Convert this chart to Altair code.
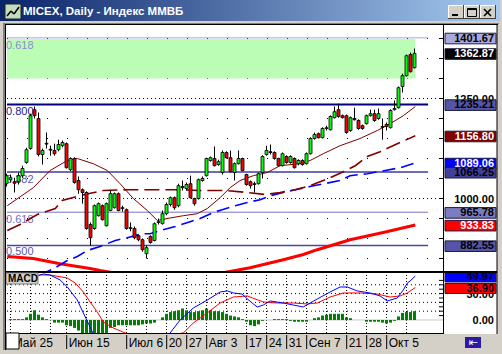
import altair as alt
import pandas as pd

W, H = 502, 354
FONT = "Liberation Sans"

# ---------------- data ----------------
opens = [1037,1047,1042,1042,1057,1090,1125,1222,1200,1110,1138,1123,1120,1122,1132,1137,1072,1100,1045,1022,
         1015,935,925,957,982,932,970,977,1012,977,972,927,925,907,897,862,905,895,940,937,
         962,985,1002,982,1030,1025,1037,1000,1000,1045,1057,1095,1100,1085,1065,1115,1102,1065,1087,1100,
         1060,1042,1037,1037,1065,1110,1117,1115,1100,1082,1105,1090,1100,1087,1095,1087,1112,1150,1162,1152,
         1175,1172,1202,1222,1207,1207,1170,1200,1195,1182,1187,1207,1212,1200,1180,1185,1177,1222,1227,1280,
         1307,1360,1327]
highs = [1062,1060,1052,1065,1082,1127,1212,1230,1215,1125,1165,1132,1137,1147,1145,1140,1103,1103,1055,1025,
         1018,940,985,990,985,990,1020,1015,1015,982,975,940,930,910,900,882,908,940,950,970,
         990,1005,1005,1037,1045,1040,1057,1002,1050,1055,1102,1105,1130,1097,1120,1118,1120,1090,1120,1102,
         1062,1045,1042,1065,1108,1132,1135,1118,1102,1115,1108,1108,1103,1098,1098,1115,1153,1165,1165,1178,
         1182,1208,1230,1237,1210,1210,1205,1227,1198,1185,1210,1222,1222,1225,1200,1190,1223,1245,1280,1312,
         1360,1365,1375]
lows = [1030,1040,1015,1035,1052,1087,1122,1200,1105,1085,1125,1107,1107,1118,1128,1075,1068,1037,1012,987,
        922,882,922,955,945,930,968,975,968,967,922,918,898,893,867,850,887,893,935,935,
        958,980,972,978,1020,1020,1000,982,997,1042,1055,1092,1080,1082,1060,1100,1065,1045,1085,1068,
        1032,1025,1015,1035,1050,1107,1110,1097,1080,1080,1087,1087,1075,1083,1082,1085,1110,1147,1150,1150,
        1170,1170,1200,1202,1200,1162,1167,1195,1172,1172,1185,1205,1192,1197,1147,1170,1175,1220,1225,1265,
        1305,1315,1325]
closes = [1057,1052,1038,1057,1075,1122,1207,1207,1110,1120,1136,1121,1112,1135,1140,1077,1100,1040,1022,1015,
          925,902,982,987,947,987,1012,1012,970,975,925,925,902,897,872,877,890,937,942,962,
          985,1002,977,1032,1027,1035,1002,987,1047,1050,1100,1102,1082,1092,1115,1102,1067,1087,1100,1070,
          1035,1032,1035,1062,1105,1120,1115,1100,1082,1112,1090,1105,1077,1095,1085,1112,1150,1160,1152,1175,
          1177,1205,1217,1205,1202,1165,1202,1197,1175,1175,1207,1212,1195,1212,1178,1180,1220,1225,1277,1307,
          1357,1317,1362.87]

# moving averages (session index, value)
ma1_x = [0.2,6.7,10.9,15.2,17.7,21.7,25.2,28.4,31.7,35.2,37.7,40.2,44.2,47.7,50.2,53.4,55.9,58.4,61.7,65.2,
         68.4,73.4,75.9,79.2,83.4,88.4,92.7,95.9,99.2,102.2]
ma1_y = [982,1027,1070,1095,1100,1087,1070,1037,1000,970,945,950,957,962,975,1002,1027,1045,1057,1065,
         1082,1087,1095,1112,1132,1150,1170,1187,1207,1230]
ma2_x = [0.2,3.4,7.7,12.2,13.9,18.4,20.4,24.2,30.2,35.9,42.2,48.4,54.7,60.2,64.7,68.4,72.2,75.9,80.9,84.2,
         87.2,90.2,93.4,97.7,102.2]
ma2_y = [920,935,960,975,995,1007,1012,1020,1022,1022,1022,1020,1020,1015,1010,1015,1022,1032,1052,1067,
         1082,1105,1117,1137,1156.8]
ma3_x = [8.4,9.7,12.2,15.2,17.7,20.2,23.4,27.2,30.2,33.9,35.9,38.4,42.2,45.9,48.4,51.7,53.9,57.2,60.2,63.4,
         65.9,69.2,72.2,75.9,78.4,83.4,85.9,90.2,94.7,98.4,102.2]
ma3_y = [805,815,827,845,855,870,880,895,902,912,912,920,930,942,950,965,972,982,990,997,
         1007,1015,1022,1030,1035,1045,1057,1062,1070,1077,1089.06]
ma4_x = [0.2,6.7,13.4,20.9,23.4,40.9,57.2,60.9,69.2,74.2,77.7,85.9,94.2,102.2]
ma4_y = [855,850,837,825,820,790,820,827,847,860,872,897,915,933.83]

# MACD
macd_x = [0.2,6.7,9.2,10.9,13.4,15.2,17.7,19.2,20.9,22.2,26,33,38,40.9,43.4,46.7,50.2,53.4,55.2,56.7,
          58.9,59.7,61.4,62.7,64.2,65.9,69.2,71.7,74.2,77.7,80.9,83.4,85.2,87.7,90.9,93.4,95.2,97.7,99.2,100.2,
          100.9,102.2]
macd_y = [43.2,48.9,52.3,51.1,45.5,37.5,22.7,8,-8,-20.5,-32,-34,-25,-14.8,0,13.6,22.7,31.8,33,30.7,
          29.5,26,19.3,14.8,17,21.6,19.3,17,14.8,23.9,31.8,37.5,37.5,33,30.7,27.3,21.6,25,34.1,42,
          44.3,49.97]
sig_x = [0.2,6.7,8.4,10.9,15.2,17.2,19.2,20.9,22.7,24.2,26.7,29.7,35,44.2,46.7,50.2,53.4,56.7,60.2,61.5,
         64.2,67.7,71.7,75.2,77.7,80.9,84.2,88.4,92.7,95.9,98.4,100.2,102.2]
sig_y = [43.2,48.9,51.1,51.1,47.7,42,31.8,20.5,9.1,-2.3,-9.1,-14.8,-20,-14.8,-3.4,8,19.3,26.1,27.3,25,
         20.5,19.3,19.3,18.2,19.3,26.1,30.7,30.7,29.5,26.1,27.3,30.7,36.9]
hist = [0,1,1,1,1,3,7,11,6,3,1,0,-3,-3,-3,-6,-7,-9,-12,-15,
        -15,-15,-15,-15,-15,-15,-9,-8,-6,-6,-6,-6,-6,-6,-5,-4,-4,-3,0,3,
        7,9,10,11,13,11,9,9,10,11,13,11,10,10,9,7,5,4,3,1,
        -2,-6,-7,-5,-1,0,0,1,1,1,1,-1,-2,-2,-2,-2,0,2,3,5,
        6,7,7,7,7,3,2,0,0,0,-2,-2,-2,-2,-3,-4,-3,-1,4,8,
        9,9,10]

# fibonacci levels
fib_vals = [1401.67, 1235.21, 1066.25, 965.78, 882.55]
fib_text = ["0.618", "0.800", "0.382", "0.618", "0.500"]

# x labels (session index of each week label)
xl_idx = [1, 15, 30, 40, 45, 50, 60, 65, 70, 75, 85, 90, 95]
xl_txt = ["Май 25", "Июн 15", "Июл 6", "20", "27", "Авг 3", "17", "24", "31", "Сен 7", "21", "28", "Окт 5"]
week_idx = [1, 6, 11, 15, 20, 25, 30, 35, 40, 45, 50, 55, 60, 65, 70, 75, 80, 85, 90, 95, 100]

# right-hand value labels
plain_main = [1250.00, 1000.00]
box_main = [1401.67, 1362.87, 1235.21, 1156.80, 1089.06, 1066.25, 965.78, 933.83, 882.55]
box_fill = ["#a8a8dc", "#000000", "#5454a8", "#800000", "#0000ff", "#40409c", "#7c7cc0", "#ff0000", "#5454a8"]
box_tcol = ["#000000", "#ffffff", "#000000", "#ffffff", "#ffffff", "#000000", "#000000", "#ffffff", "#000000"]
plain_macd = [30.00, 0.00]
box_macd = [49.97, 36.90]
box_macd_fill = ["#0000ff", "#ff0000"]

# ---------------- scales ----------------
XS = alt.Scale(domain=[-1.625, 123.875], range=[0, W], nice=False, zero=False)
YM = alt.Scale(domain=[820, 1430], range=[270.5, 26.5], nice=False, zero=False)
YD = alt.Scale(domain=[-14.8, 53.4], range=[333, 273], nice=False, zero=False)
ONE = pd.DataFrame({"k": [0]})
L = []


def rect(x1, y1, x2, y2, fill, **kw):
    return alt.Chart(ONE).mark_rect(fill=fill, **kw).encode(
        x=alt.value(x1), x2=alt.value(x2), y=alt.value(y1), y2=alt.value(y2))


def seg(x1, y1, x2, y2, color, width=1, dash=None):
    kw = dict(color=color, strokeWidth=width)
    if dash:
        kw["strokeDash"] = dash
    return alt.Chart(ONE).mark_rule(**kw).encode(
        x=alt.value(x1), x2=alt.value(x2), y=alt.value(y1), y2=alt.value(y2))


def txt(x, y, text, size=11, color="black", weight="normal", align="left", font=FONT):
    return alt.Chart(ONE).mark_text(text=text, fontSize=size, color=color, fontWeight=weight,
                                    align=align, baseline="middle", font=font).encode(
        x=alt.value(x), y=alt.value(y))


def X(f):
    return alt.X(f, type="quantitative", scale=XS, axis=None)


def Y(f, s):
    return alt.Y(f, type="quantitative", scale=s, axis=None)


# white chart area
L.append(rect(6, 25, 497, 334, "#ffffff"))

# dotted grid of main panel
grid_rows = pd.DataFrame({"p": [850, 900, 950, 1050, 1100, 1150, 1200, 1300, 1350, 1400], "a": 0.125, "b": 109.125})
L.append(alt.Chart(grid_rows).mark_rule(color="black", strokeWidth=1, strokeDash=[1, 19]).encode(
    x=X("a"), x2="b", y=Y("p", YM)))
dense_rows = pd.DataFrame({"p": [1250, 1000], "a": 0.125, "b": 109.125})
L.append(alt.Chart(dense_rows).mark_rule(color="black", strokeWidth=1, strokeDash=[1, 3]).encode(
    x=X("a"), x2="b", y=Y("p", YM)))

# green target band
band = pd.DataFrame({"a": [0.125], "b": [102.2], "lo": [1300], "hi": [1399]})
L.append(alt.Chart(band).mark_rect(fill="#bbfdb5").encode(x=X("a"), x2="b", y=Y("lo", YM), y2="hi"))

# fibonacci lines
fib = pd.DataFrame({"p": fib_vals, "t": fib_text,
                    "c": ["#a4a4e0", "#000080", "#3c3c9c", "#7474c4", "#4848a4"],
                    "w": [1, 2, 1.5, 1, 1.5], "a": 0.125, "b": 105.4})
L.append(alt.Chart(fib).mark_rule().encode(x=X("a"), x2="b", y=Y("p", YM),
                                            color=alt.Color("c:N", scale=None),
                                            strokeWidth=alt.StrokeWidth("w:Q", scale=None)))
fib["tp"] = fib["p"] - pd.Series([2.0, 1.5, 1.5, 1.5, 1.0]) * 2.5
fib["tc"] = ["#8c8cd0", "#202088", "#5a5aaa", "#7070c0", "#5a5aaa"]
L.append(alt.Chart(fib).mark_text(align="left", baseline="top", font=FONT, fontSize=11).encode(
    x=alt.value(6), y=Y("tp", YM), text="t:N", color=alt.Color("tc:N", scale=None)))

# moving averages
def ma(xs, ys, **kw):
    return alt.Chart(pd.DataFrame({"j": xs, "v": ys})).mark_line(**kw).encode(x=X("j"), y=Y("v", YM))

L.append(ma(ma4_x, ma4_y, color="#ff0000", strokeWidth=3))
L.append(ma(ma3_x, ma3_y, color="#0000ff", strokeWidth=1.6, strokeDash=[13, 6]))
L.append(ma(ma2_x, ma2_y, color="#800000", strokeWidth=1.6, strokeDash=[15, 6]))
L.append(ma(ma1_x, ma1_y, color="#800000", strokeWidth=1))

# candles
cd = pd.DataFrame({"j": list(range(len(opens))), "o": opens, "h": highs, "l": lows, "c": closes})
cd["xl"] = cd["j"] - 0.375
cd["xr"] = cd["j"] + 0.375
cd["col"] = ["#00ff00" if c >= o else "#ff0000" for o, c in zip(opens, closes)]
L.append(alt.Chart(cd).mark_rule(color="black", strokeWidth=1).encode(x=X("j"), y=Y("l", YM), y2="h"))
L.append(alt.Chart(cd).mark_rect(stroke="black", strokeWidth=0.8).encode(
    x=X("xl"), x2="xr", y=Y("o", YM), y2="c", fill=alt.Fill("col:N", scale=None)))

# MACD panel background (hides what runs below the price panel)
L.append(rect(6, 271, 497, 334, "#ffffff"))

# MACD grid
wk = pd.DataFrame({"j": week_idx, "lo": -14.8, "hi": 53.4})
L.append(alt.Chart(wk).mark_rule(color="black", strokeWidth=1, strokeDash=[1, 2]).encode(
    x=X("j"), y=Y("lo", YD), y2="hi"))
mrows = pd.DataFrame({"v": [10, 20, 30, 40], "a": 0.125, "b": 109.125})
L.append(alt.Chart(mrows).mark_rule(color="black", strokeWidth=1, strokeDash=[1, 3]).encode(
    x=X("a"), x2="b", y=Y("v", YD)))
zr = pd.DataFrame({"v": [0], "a": [0.125], "b": [109.125]})
L.append(alt.Chart(zr).mark_rule(color="#c8c8c8", strokeWidth=1).encode(x=X("a"), x2="b", y=Y("v", YD)))

# histogram
hd = pd.DataFrame({"j": list(range(len(hist))), "h": hist})
hd["xl"] = hd["j"] - 0.375
hd["xr"] = hd["j"] + 0.375
hd["z"] = 0
L.append(alt.Chart(hd).mark_rect(fill="#008000").encode(x=X("xl"), x2="xr", y=Y("h", YD), y2="z"))

# MACD lines
L.append(alt.Chart(pd.DataFrame({"j": sig_x, "v": sig_y})).mark_line(color="#ff0000", strokeWidth=1).encode(
    x=X("j"), y=Y("v", YD)))
L.append(alt.Chart(pd.DataFrame({"j": macd_x, "v": macd_y})).mark_line(color="#0000ff", strokeWidth=1).encode(
    x=X("j"), y=Y("v", YD)))

# bottom grey strip (hides what runs below the MACD panel)
L.append(rect(0, 334, 502, 354, "#d4d0c8"))

# panel borders
L.append(seg(5, 333.5, 444, 333.5, "black", 1))
L.append(seg(443.5, 25, 443.5, 334, "black", 1))

# right axis ticks (price)
tk = pd.DataFrame({"p": [850, 900, 950, 1000, 1050, 1100, 1150, 1200, 1250, 1300, 1350, 1400]})
L.append(alt.Chart(tk).mark_rule(color="black", strokeWidth=1).encode(
    x=alt.value(439), x2=alt.value(444), y=Y("p", YM)))

# right value labels (price panel)
for v in plain_main:
    d = pd.DataFrame({"p": [v], "t": [f"{v:.2f}"]})
    L.append(alt.Chart(d).mark_text(align="right", baseline="middle", font=FONT, fontSize=11,
                                    fontWeight="bold", color="black", dy=1).encode(
        x=alt.value(494), y=Y("p", YM), text="t:N"))
for v, f, tc in zip(box_main, box_fill, box_tcol):
    d = pd.DataFrame({"p": [v], "t": [f"{v:.2f}"], "hi": [v + 11.5], "lo": [v - 15.0]})
    L.append(alt.Chart(d).mark_rect(fill=f, stroke="#1c1c40", strokeWidth=1).encode(
        x=alt.value(445), x2=alt.value(496), y=Y("hi", YM), y2="lo"))
    L.append(alt.Chart(d).mark_text(align="right", baseline="middle", font=FONT, fontSize=11,
                                    fontWeight="bold", color=tc, dy=1).encode(
        x=alt.value(494), y=Y("p", YM), text="t:N"))

# MACD right ticks and labels
mt = pd.DataFrame({"v": [5, 10, 15, 20, 25, 30, 35, 40, 45]})
L.append(alt.Chart(mt).mark_rule(color="black", strokeWidth=1).encode(
    x=alt.value(439), x2=alt.value(444), y=Y("v", YD)))
for v in plain_macd:
    d = pd.DataFrame({"p": [v], "t": [f"{v:.2f}"]})
    L.append(alt.Chart(d).mark_text(align="right", baseline="middle", font=FONT, fontSize=11,
                                    fontWeight="bold", color="black", dy=1).encode(
        x=alt.value(494), y=Y("p", YD), text="t:N"))
for v, f in zip(box_macd, box_macd_fill):
    d = pd.DataFrame({"p": [v], "t": [f"{v:.2f}"], "hi": [v + 4.5], "lo": [v - 6.8]})
    L.append(alt.Chart(d).mark_rect(fill=f, stroke="#1c1c40", strokeWidth=1).encode(
        x=alt.value(445), x2=alt.value(496), y=Y("hi", YD), y2="lo"))
    L.append(alt.Chart(d).mark_text(align="right", baseline="middle", font=FONT, fontSize=11,
                                    fontWeight="bold", color="#000020", dy=1).encode(
        x=alt.value(494), y=Y("p", YD), text="t:N"))

# separator between panels
L.append(rect(5, 271, 497, 273, "#000000"))

# MACD caption
L.append(rect(6, 273, 38, 284, "#d4d0c8", stroke="#808080", strokeWidth=1))
L.append(txt(8, 279, "MACD", size=10, weight="bold"))

# x axis labels with separators
xl = pd.DataFrame({"j": xl_idx, "t": xl_txt})
xl["s"] = xl["j"] + 0.05
L.append(alt.Chart(xl).mark_rule(color="black", strokeWidth=1).encode(
    x=X("s"), y=alt.value(335), y2=alt.value(349)))
L.append(alt.Chart(xl).mark_text(align="left", baseline="middle", font=FONT, fontSize=12, dx=2,
                                 color="black").encode(x=X("s"), y=alt.value(342.5), text="t:N"))

# little scroll box and button at the bottom
L.append(rect(6, 333, 19, 349, "#ffffff", stroke="#000000", strokeWidth=1))
L.append(rect(465, 337, 481, 348, "#2a1aa8"))
L.append(txt(473, 342.5, "⇤", size=11, color="#ffffff", align="center", font="DejaVu Sans"))

# frame
L.append(rect(0, 21, 502, 24, "#d4d0c8"))
L.append(seg(3, 23.5, 499, 23.5, "#808080", 1))
L.append(seg(4, 24.5, 498, 24.5, "#000000", 1))
L.append(rect(3, 24, 5, 350, "#808080"))
L.append(rect(5, 25, 6, 350, "#000000"))
L.append(seg(497, 25, 497, 334, "#000000", 1))

# title bar
grad = {"gradient": "linear", "x1": 0, "x2": 1, "y1": 0, "y2": 0,
        "stops": [{"offset": 0, "color": "#0a246a"}, {"offset": 1, "color": "#a6caf0"}]}
L.append(alt.Chart(ONE).mark_rect(fill=grad).encode(
    x=alt.value(0), x2=alt.value(500), y=alt.value(0), y2=alt.value(21)))
L.append(rect(5, 4, 21, 19, "#c4dcc0", stroke="#202020", strokeWidth=1))
L.append(seg(7, 16, 11, 11, "#000000", 1.5))
L.append(seg(11, 11, 14, 14, "#000000", 1.5))
L.append(seg(14, 14, 19, 7, "#000000", 1.5))
L.append(txt(23, 12, "MICEX, Daily - Индекс ММВБ", size=11.5, color="#ffffff", weight="bold"))
for bx in (448, 464, 480):
    L.append(rect(bx, 5, bx + 16, 19, "#d4d0c8"))
    L.append(seg(bx, 5.5, bx + 16, 5.5, "#ffffff", 1))
    L.append(seg(bx + 0.5, 5, bx + 0.5, 19, "#ffffff", 1))
    L.append(seg(bx, 18.5, bx + 16, 18.5, "#404040", 1))
    L.append(seg(bx + 15.5, 5, bx + 15.5, 19, "#404040", 1))
L.append(rect(452, 14, 458, 16, "#000000"))
L.append(rect(467.5, 8.5, 476.5, 16.5, "#d4d0c8", stroke="#000000", strokeWidth=1))
L.append(seg(467, 9.5, 477, 9.5, "#000000", 1))
L.append(seg(484, 9, 491, 16, "#000000", 1.6))
L.append(seg(491, 9, 484, 16, "#000000", 1.6))

chart = alt.layer(*L).resolve_scale(x="independent", y="independent").properties(
    width=W, height=H, autosize=alt.AutoSizeParams(type="none"), padding=0,
    background="#d4d0c8").configure_view(stroke=None)

chart.save("out.html", embed_options={"renderer": "svg", "actions": False})
